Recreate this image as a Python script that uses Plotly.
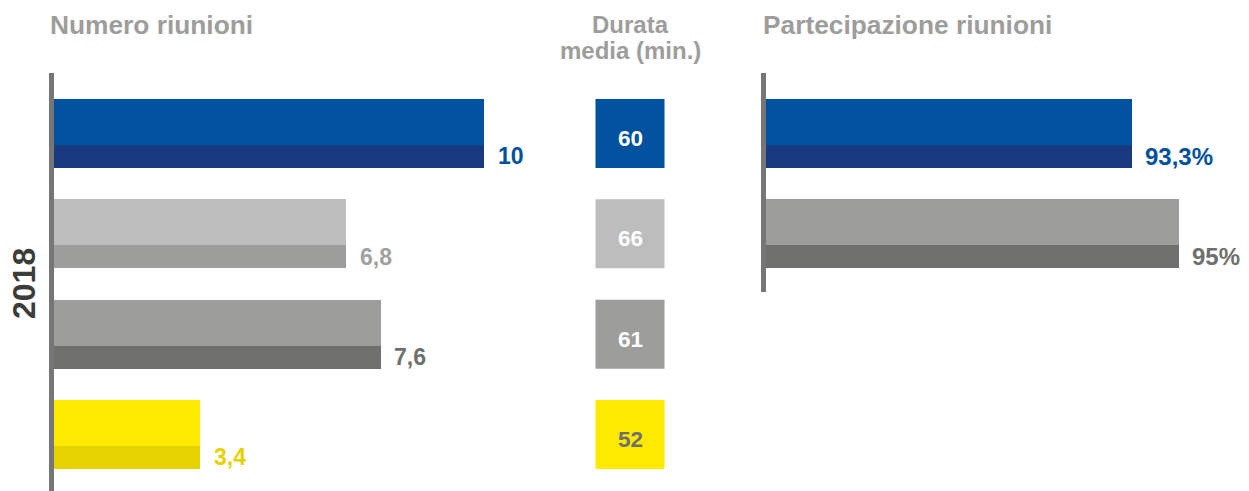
import plotly.graph_objects as go

W, H = 1249, 491

# ---- data ----
groups = [0, 1, 2, 3]                       # bar rows (top to bottom)
num_riunioni = [10, 6.8, 7.6, 3.4]
num_labels = ["10", "6,8", "7,6", "3,4"]
durata_media = [60, 66, 61, 52]
durata_labels = ["60", "66", "61", "52"]
part_groups = [0, 1]
partecipazione = [93.3, 95]
part_labels = ["93,3%", "95%"]
year_label = "2018"

# ---- style ----
FONT = "Liberation Sans, Arial, Helvetica, sans-serif"
TITLE_GREY = "#9D9D9C"
top_colors = ["#00519E", "#BDBDBD", "#9D9D9C", "#FFE900"]
strip_colors = ["#173A80", "#9D9D9C", "#6F6F6E", "#E5D200"]
label_colors = ["#00519E", "#A0A0A0", "#6F6F6E", "#E5D200"]
square_colors = ["#00519E", "#BDBDBD", "#9D9D9C", "#FFE900"]
square_text_colors = ["#FFFFFF", "#FFFFFF", "#FFFFFF", "#6F6F6E"]
part_top = ["#00519E", "#9D9D9C"]
part_strip = ["#173A80", "#6F6F6E"]
part_label_colors = ["#00519E", "#6F6F6E"]

PX_PER_ROW = 100.33
TOP_OFF, TOP_W = -0.344, 0.4585
STRIP_OFF, STRIP_W = 0.1146, 0.229

def px_x(p):
    return p / W

def px_y(p):
    return 1 - p / H

fig = go.Figure()

# left panel: Numero riunioni (two-tone bars)
for i, g in enumerate(groups):
    fig.add_trace(go.Bar(orientation="h", x=[num_riunioni[i]], y=[g],
                         width=TOP_W, offset=TOP_OFF,
                         marker=dict(color=top_colors[i], line=dict(width=0)),
                         xaxis="x", yaxis="y", showlegend=False, hoverinfo="skip"))
    fig.add_trace(go.Bar(orientation="h", x=[num_riunioni[i]], y=[g],
                         width=STRIP_W, offset=STRIP_OFF,
                         marker=dict(color=strip_colors[i], line=dict(width=0)),
                         xaxis="x", yaxis="y", showlegend=False, hoverinfo="skip"))

# middle: Durata media squares
fig.add_trace(go.Scatter(x=[0] * len(groups), y=groups, mode="markers",
                         marker=dict(symbol="square", size=69, color=square_colors,
                                     line=dict(width=0)),
                         xaxis="x2", yaxis="y", showlegend=False, hoverinfo="skip"))

# right panel: Partecipazione riunioni
for i, g in enumerate(part_groups):
    fig.add_trace(go.Bar(orientation="h", x=[partecipazione[i]], y=[g],
                         width=TOP_W, offset=TOP_OFF,
                         marker=dict(color=part_top[i], line=dict(width=0)),
                         xaxis="x3", yaxis="y3", showlegend=False, hoverinfo="skip"))
    fig.add_trace(go.Bar(orientation="h", x=[partecipazione[i]], y=[g],
                         width=STRIP_W, offset=STRIP_OFF,
                         marker=dict(color=part_strip[i], line=dict(width=0)),
                         xaxis="x3", yaxis="y3", showlegend=False, hoverinfo="skip"))

annotations = []
strip_center = STRIP_OFF + STRIP_W / 2
for i, g in enumerate(groups):
    annotations.append(dict(x=num_riunioni[i], y=g + strip_center, xref="x", yref="y",
                            text=num_labels[i], showarrow=False, xanchor="left",
                            yanchor="middle", xshift=12,
                            font=dict(family=FONT, size=23, color=label_colors[i], weight="bold")))
    annotations.append(dict(x=0, y=g, xref="x2", yref="y", text=durata_labels[i],
                            showarrow=False, xanchor="center", yanchor="middle", yshift=-5,
                            font=dict(family=FONT, size=22.5, color=square_text_colors[i],
                                      weight="bold")))
for i, g in enumerate(part_groups):
    annotations.append(dict(x=partecipazione[i], y=g + strip_center, xref="x3", yref="y3",
                            text=part_labels[i], showarrow=False, xanchor="left",
                            yanchor="middle", xshift=11,
                            font=dict(family=FONT, size=24, color=part_label_colors[i],
                                      weight="bold")))

title_font = dict(family=FONT, size=26.3, color=TITLE_GREY, weight="bold")
annotations += [
    dict(x=px_x(48), y=px_y(25), xref="paper", yref="paper", text="Numero riunioni",
         showarrow=False, xanchor="left", yanchor="middle", font=title_font),
    dict(x=px_x(630), y=px_y(24), xref="paper", yref="paper", text="Durata",
         showarrow=False, xanchor="center", yanchor="middle", font=dict(title_font, size=24)),
    dict(x=px_x(630), y=px_y(50.5), xref="paper", yref="paper", text="media (min.)",
         showarrow=False, xanchor="center", yanchor="middle", font=dict(title_font, size=24)),
    dict(x=px_x(761), y=px_y(25), xref="paper", yref="paper", text="Partecipazione riunioni",
         showarrow=False, xanchor="left", yanchor="middle", font=title_font),
    dict(x=px_x(24), y=px_y(284), xref="paper", yref="paper", text=year_label,
         showarrow=False, xanchor="center", yanchor="middle", textangle=-90,
         font=dict(family=FONT, size=32, color="#3C3C3B", weight="bold")),
]

# axes geometry
left_x0, left_x1 = 53.5, 560
left_scale = 43.0          # px per meeting
right_x0 = 766
right_scale = 27.5         # px per percentage point
right_base = 80
plot_top = 73
left_bottom = 491
right_bottom = 292

def yrange(top_px, bottom_px):
    first_center = 133.5 - top_px
    lo = -first_center / PX_PER_ROW
    hi = lo + (bottom_px - top_px) / PX_PER_ROW
    return [hi, lo]

hidden_x = dict(showgrid=False, zeroline=False, showticklabels=False, showline=False,
                ticks="", fixedrange=True)
y_line = dict(showgrid=False, zeroline=False, showticklabels=False, showline=True,
              linewidth=5, linecolor="#767676", ticks="", fixedrange=True)

fig.update_layout(
    width=W, height=H,
    margin=dict(l=0, r=0, t=0, b=0),
    paper_bgcolor="white", plot_bgcolor="rgba(0,0,0,0)",
    barmode="overlay", bargap=0,
    hovermode=False,
    font=dict(family=FONT),
    xaxis=dict(hidden_x, domain=[px_x(left_x0), px_x(left_x1)],
               range=[0, (left_x1 - left_x0) / left_scale], anchor="y"),
    yaxis=dict(y_line, domain=[px_y(left_bottom), px_y(plot_top)],
               range=yrange(plot_top, left_bottom), anchor="x"),
    xaxis2=dict(hidden_x, domain=[px_x(560), px_x(700)], range=[-1, 1], anchor="y"),
    xaxis3=dict(hidden_x, domain=[px_x(right_x0), 1],
                range=[right_base, right_base + (W - right_x0) / right_scale], anchor="y3"),
    yaxis3=dict(y_line, domain=[px_y(right_bottom), px_y(plot_top)],
                range=yrange(plot_top, right_bottom), anchor="x3"),
    annotations=annotations,
)

fig.write_html("out.html", config={"displayModeBar": False},
               post_script="document.body.style.margin='0';document.body.style.overflow='hidden';")
